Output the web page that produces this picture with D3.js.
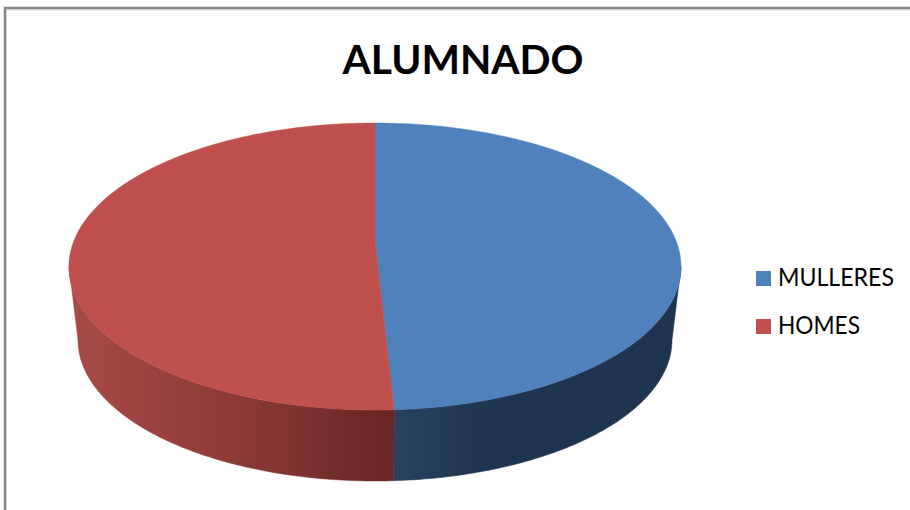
<!DOCTYPE html>
<html>
<head>
<meta charset="utf-8">
<script src="https://cdn.jsdelivr.net/npm/d3@7"></script>
<style>
  html, body { margin: 0; background: #fff; overflow: hidden; }
  text { font-family: Lato, "Open Sans", sans-serif; fill: #000; }
</style>
</head>
<body>
<div id="chart"></div>
<script>
// Data
const categories = ["MULLERES", "HOMES"];
const values = [49, 51];
const colors = ["#4f81bd", "#c0504d"];
const title = "ALUMNADO";

const width = 910, height = 510;

const svg = d3.select("#chart").append("svg")
    .attr("width", width)
    .attr("height", height)
    .style("display", "block");

// Frame: only the top and left edges are visible in the crop
svg.append("path").attr("d", "M6,510V10H910").attr("fill", "none").attr("stroke", "#d4d4d4").attr("stroke-width", 1);
svg.append("path").attr("d", "M5,510V8H910").attr("fill", "none").attr("stroke", "#868686").attr("stroke-width", 2.5);

// Top face and lower rim ellipses of the tilted pie
const topX = d3.scaleLinear().domain([-1, 1]).range([69, 681]);
const topY = d3.scaleLinear().domain([-1, 1]).range([123, 410]);
const baseX = d3.scaleLinear().domain([-1, 1]).range([78, 672]);
const baseY = d3.scaleLinear().domain([-1, 1]).range([199, 481]);
const hub = [375, 240]; // perspective moves the centre above the ellipse middle

const line = d3.line();
const rim = (a, sx, sy) => [sx(Math.sin(a)), sy(-Math.cos(a))];
const sweep = (a0, a1) => d3.range(0, 121).map(i => a0 + (a1 - a0) * i / 120);

const pie = d3.pie().sort(null)(values);

// Gradients for the side wall
const defs = svg.append("defs");
const sideStops = [
    [[0, "#29425f"], [0.35, "#1f344e"], [1, "#1f344e"]],
    [[0, "#a64a47"], [0.5, "#8c3a37"], [1, "#672625"]]
];
const sideExtent = [[394, 672], [78, 394]];
sideStops.forEach((stops, i) => {
    const g = defs.append("linearGradient")
        .attr("id", "side" + i)
        .attr("gradientUnits", "userSpaceOnUse")
        .attr("x1", sideExtent[i][0]).attr("x2", sideExtent[i][1])
        .attr("y1", 0).attr("y2", 0);
    g.selectAll("stop").data(stops).join("stop")
        .attr("offset", d => d[0])
        .attr("stop-color", d => d[1]);
});

// Side wall: only the front half of each slice shows
svg.append("g").selectAll("path").data(pie).join("path")
    .attr("fill", (d, i) => `url(#side${i})`)
    .attr("stroke", (d, i) => `url(#side${i})`)
    .attr("stroke-width", 0.5)
    .attr("d", d => {
        const a0 = Math.max(d.startAngle, Math.PI / 2);
        const a1 = Math.min(d.endAngle, Math.PI * 3 / 2);
        const upper = sweep(a0, a1).map(a => rim(a, topX, topY));
        const lower = sweep(a1, a0).map(a => rim(a, baseX, baseY));
        return line(upper.concat(lower)) + "Z";
    });

// Top face
svg.append("g").selectAll("path").data(pie).join("path")
    .attr("fill", (d, i) => colors[i])
    .attr("stroke", (d, i) => colors[i])
    .attr("stroke-width", 0.5)
    .attr("d", d => line([hub].concat(sweep(d.startAngle, d.endAngle).map(a => rim(a, topX, topY)))) + "Z");

// Title
svg.append("text")
    .attr("x", 463)
    .attr("y", 74)
    .attr("text-anchor", "middle")
    .attr("font-size", 41)
    .attr("font-weight", 700)
    .attr("textLength", 241)
    .attr("lengthAdjust", "spacingAndGlyphs")
    .text(title);

// Legend
const legendY = d3.scalePoint().domain(categories).range([271, 319]);
const legendWidths = [116, 82];
const legend = svg.append("g").selectAll("g").data(categories).join("g")
    .attr("transform", d => `translate(756,${legendY(d)})`);
legend.append("rect")
    .attr("width", 15)
    .attr("height", 15)
    .attr("fill", (d, i) => colors[i]);
legend.append("text")
    .attr("x", 22)
    .attr("y", 15)
    .attr("font-size", 24.5)
    .attr("textLength", (d, i) => legendWidths[i])
    .attr("lengthAdjust", "spacingAndGlyphs")
    .text(d => d);
</script>
</body>
</html>
